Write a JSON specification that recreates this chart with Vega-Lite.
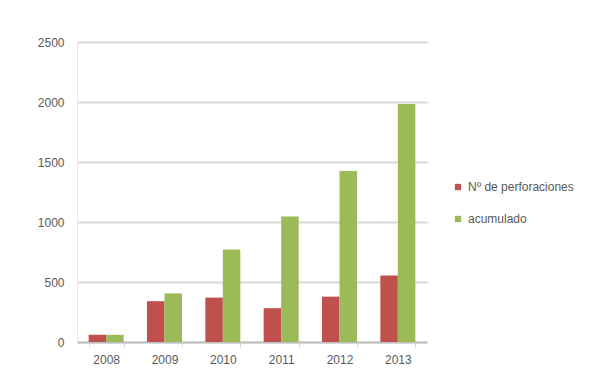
{
  "$schema": "https://vega.github.io/schema/vega-lite/v6.json",
  "width": 350,
  "height": 300,
  "autosize": {"type": "none"},
  "padding": {"left": 77, "top": 42, "right": 180, "bottom": 30},
  "background": "white",
  "data": {
    "values": [
      {"year": "2008", "serie": "Nº de perforaciones", "value": 60},
      {"year": "2008", "serie": "acumulado", "value": 60},
      {"year": "2009", "serie": "Nº de perforaciones", "value": 340},
      {"year": "2009", "serie": "acumulado", "value": 405},
      {"year": "2010", "serie": "Nº de perforaciones", "value": 370},
      {"year": "2010", "serie": "acumulado", "value": 770},
      {"year": "2011", "serie": "Nº de perforaciones", "value": 282},
      {"year": "2011", "serie": "acumulado", "value": 1045},
      {"year": "2012", "serie": "Nº de perforaciones", "value": 378},
      {"year": "2012", "serie": "acumulado", "value": 1425},
      {"year": "2013", "serie": "Nº de perforaciones", "value": 555},
      {"year": "2013", "serie": "acumulado", "value": 1983}
    ]
  },
  "mark": {"type": "bar"},
  "encoding": {
    "x": {
      "field": "year",
      "type": "nominal",
      "scale": {"paddingInner": 0.4, "paddingOuter": 0.2},
      "axis": {
        "title": null,
        "labelAngle": 0,
        "labelFont": "Liberation Sans",
        "labelFontSize": 12,
        "labelColor": "#595959",
        "labelPadding": 7,
        "domainColor": "#bfbfbf",
        "domainWidth": 2,
        "ticks": true,
        "tickColor": "#d9d9d9",
        "tickBand": "extent",
        "tickSize": 5
      }
    },
    "xOffset": {"field": "serie", "type": "nominal", "scale": {"paddingInner": 0}},
    "y": {
      "field": "value",
      "type": "quantitative",
      "scale": {"domain": [0, 2500], "nice": false},
      "axis": {
        "title": null,
        "format": "d",
        "values": [0, 500, 1000, 1500, 2000, 2500],
        "labelFont": "Liberation Sans",
        "labelFontSize": 12,
        "labelColor": "#595959",
        "labelPadding": 13,
        "ticks": false,
        "domain": true,
        "domainColor": "#e6e6e6",
        "gridColor": "#d9d9d9",
        "gridWidth": 2
      }
    },
    "color": {
      "field": "serie",
      "type": "nominal",
      "scale": {"domain": ["Nº de perforaciones", "acumulado"], "range": ["#c0504d", "#9bbb59"]},
      "legend": {
        "title": null,
        "orient": "none",
        "legendX": 375,
        "legendY": 139,
        "symbolType": "square",
        "symbolSize": 40,
        "rowPadding": 20,
        "labelFont": "Liberation Sans",
        "labelFontSize": 12,
        "labelColor": "#595959"
      }
    }
  },
  "config": {"view": {"stroke": null}}
}
